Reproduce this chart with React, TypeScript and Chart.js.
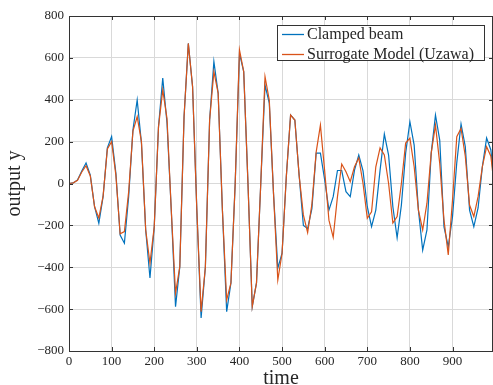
import React, { useEffect, useRef } from "react";
import { Chart, registerables } from "chart.js";

Chart.register(...registerables);

const times: number[] = [
  0, 10, 20, 30, 40, 50, 60, 70, 80, 90,
  100, 110, 120, 130, 140, 150, 160, 170, 180, 190,
  200, 210, 220, 230, 240, 250, 260, 270, 280, 290,
  300, 310, 320, 330, 340, 350, 360, 370, 380, 390,
  400, 410, 420, 430, 440, 450, 460, 470, 480, 490,
  500, 510, 520, 530, 540, 550, 560, 570, 580, 590,
  600, 610, 620, 630, 640, 650, 660, 670, 680, 690,
  700, 710, 720, 730, 740, 750, 760, 770, 780, 790,
  800, 810, 820, 830, 840, 850, 860, 870, 880, 890,
  900, 910, 920, 930, 940, 950, 960, 970, 980, 990,
  1000,
];

const clampedBeam: number[] = [
  0, 3, 17, 60, 98, 40, -111, -190, -63, 170,
  224, 50, -246, -285, -63, 255, 399, 193, -222, -451,
  -207, 270, 504, 289, -127, -588, -397, 319, 669, 462,
  -127, -642, -400, 303, 582, 432, -127, -612, -475, 0,
  622, 534, 0, -588, -475, 0, 470, 384, -50, -404,
  -333, 33, 327, 303, 40, -200, -215, -120, 145, 145,
  17, -127, -63, 62, 62, -39, -63, 64, 136, 60,
  -111, -206, -127, 64, 236, 136, -111, -259, -103, 145,
  295, 183, -127, -318, -222, 145, 327, 207, -207, -302,
  -158, 100, 284, 176, -127, -206, -117, 80, 217, 160,
  -50,
];

const surrogate: number[] = [
  0, 3, 15, 55, 85, 36, -111, -165, -60, 165,
  200, 40, -240, -230, -40, 250, 319, 200, -222, -380,
  -207, 270, 447, 310, -127, -524, -397, 319, 669, 462,
  -127, -612, -400, 303, 534, 432, -127, -556, -475, 0,
  638, 534, 0, -588, -475, 0, 510, 399, -50, -461,
  -333, 33, 327, 303, 40, -150, -235, -100, 150, 279,
  60, -175, -257, -63, 93, 56, 9, 80, 122, 0,
  -166, -135, 80, 170, 136, 0, -189, -158, 0, 193,
  217, 80, -127, -222, -94, 145, 279, 96, -175, -341,
  -79, 224, 263, 130, -103, -158, -63, 80, 176, 130,
  -50,
];

const xTicks: number[] = [0, 100, 200, 300, 400, 500, 600, 700, 800, 900];
const yTicks: number[] = [-800, -600, -400, -200, 0, 200, 400, 600, 800];

const seriesNames: string[] = ["Clamped beam", "Surrogate Model (Uzawa)"];
const seriesColors: string[] = ["#0072BD", "#D95319"];

const SERIF = "'Liberation Serif', 'DejaVu Serif', serif";

const framePlugin = {
  id: "framePlugin",
  afterDatasetsDraw(chart: any) {
    const { ctx, chartArea } = chart;
    const { left, right, top, bottom } = chartArea;
    ctx.save();
    ctx.strokeStyle = "#333333";
    ctx.lineWidth = 1;
    // inner tick marks
    const xs = chart.scales.x;
    const ys = chart.scales.y;
    ctx.beginPath();
    xTicks.forEach((t) => {
      const px = Math.round(xs.getPixelForValue(t)) + 0.5;
      ctx.moveTo(px, bottom);
      ctx.lineTo(px, bottom - 4);
      ctx.moveTo(px, top);
      ctx.lineTo(px, top + 4);
    });
    yTicks.forEach((t) => {
      const py = Math.round(ys.getPixelForValue(t)) + 0.5;
      ctx.moveTo(left, py);
      ctx.lineTo(left + 4, py);
      ctx.moveTo(right, py);
      ctx.lineTo(right - 4, py);
    });
    ctx.stroke();
    ctx.strokeRect(Math.round(left) + 0.5, Math.round(top) + 0.5, Math.round(right - left) - 1, Math.round(bottom - top));
    ctx.restore();
  },
  afterDraw(chart: any) {
    const { ctx } = chart;
    const bx = 277.5, by = 25.5, bw = 207, bh = 35;
    ctx.save();
    ctx.fillStyle = "#ffffff";
    ctx.fillRect(bx, by, bw, bh);
    ctx.strokeStyle = "#333333";
    ctx.lineWidth = 1;
    ctx.strokeRect(bx, by, bw, bh);
    ctx.font = `16px ${SERIF}`;
    ctx.textBaseline = "middle";
    ctx.fillStyle = "#262626";
    chart.data.datasets.forEach((ds: any, i: number) => {
      const y = 34.5 + i * 20;
      ctx.strokeStyle = ds.borderColor;
      ctx.lineWidth = 1.3;
      ctx.beginPath();
      ctx.moveTo(282, y);
      ctx.lineTo(304, y);
      ctx.stroke();
      ctx.fillText(ds.label, 307, y);
    });
    ctx.restore();
  },
};

export default function App() {
  const canvasRef = useRef<HTMLCanvasElement | null>(null);

  useEffect(() => {
    document.body.style.margin = "0";
    const canvas = canvasRef.current;
    if (!canvas) return;
    const chart = new Chart(canvas, {
      type: "line",
      data: {
        datasets: [
          {
            label: seriesNames[0],
            data: times.map((t, i) => ({ x: t, y: clampedBeam[i] })),
            borderColor: seriesColors[0],
            backgroundColor: seriesColors[0],
            borderWidth: 1.2,
            pointRadius: 0,
            tension: 0,
            order: 1,
          },
          {
            label: seriesNames[1],
            data: times.map((t, i) => ({ x: t, y: surrogate[i] })),
            borderColor: seriesColors[1],
            backgroundColor: seriesColors[1],
            borderWidth: 1.2,
            pointRadius: 0,
            tension: 0,
            order: 0,
          },
        ],
      },
      options: {
        animation: false,
        responsive: false,
        maintainAspectRatio: false,
        devicePixelRatio: 1,
        layout: { padding: { left: 0, right: 0, top: 16, bottom: 0 } },
        plugins: {
          legend: { display: false },
          tooltip: { enabled: false },
        },
        scales: {
          x: {
            type: "linear",
            min: 0,
            max: 995,
            afterFit: (scale: any) => {
              scale.height = 34;
            },
            afterBuildTicks: (scale: any) => {
              scale.ticks = xTicks.map((v) => ({ value: v }));
            },
            ticks: {
              includeBounds: false,
              padding: 3,
              maxRotation: 0,
              autoSkip: false,
              color: "#262626",
              font: { family: SERIF, size: 13 },
            },
            grid: { color: "#d9d9d9", lineWidth: 1, drawTicks: false },
            border: { display: false },
            title: {
              display: true,
              text: "time",
              color: "#262626",
              font: { family: SERIF, size: 20, lineHeight: 0.6 },
              padding: 0,
            },
          },
          y: {
            type: "linear",
            min: -800,
            max: 800,
            afterFit: (scale: any) => {
              scale.width = 69;
            },
            afterBuildTicks: (scale: any) => {
              scale.ticks = yTicks.map((v) => ({ value: v }));
            },
            ticks: {
              padding: 5,
              color: "#262626",
              font: { family: SERIF, size: 13 },
              callback: (v: any) => (Number(v) < 0 ? "\u2212" + Math.abs(Number(v)) : String(v)),
            },
            grid: { color: "#d9d9d9", lineWidth: 1, drawTicks: false },
            border: { display: false },
            title: {
              display: true,
              text: "output y",
              color: "#262626",
              font: { family: SERIF, size: 20 },
              padding: { top: 3, bottom: 0 },
            },
          },
        },
      },
      plugins: [framePlugin],
    });
    return () => chart.destroy();
  }, []);

  return (
    <div style={{ width: 493, height: 385 }}>
      <canvas ref={canvasRef} width={493} height={385} style={{ width: 493, height: 385 }} />
    </div>
  );
}
